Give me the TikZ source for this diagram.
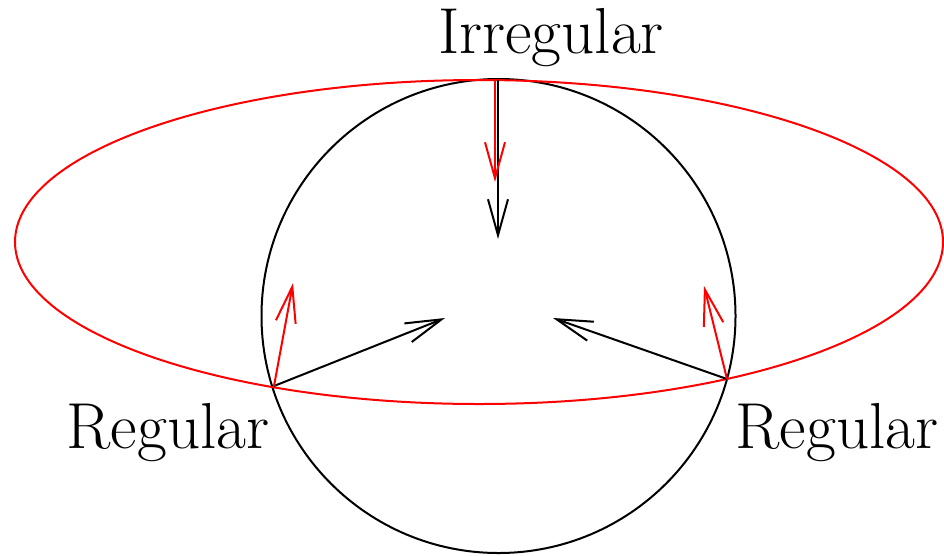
\documentclass[tikz,border=0pt]{standalone}
\usepackage{tikz}
\usetikzlibrary{arrows.meta}
\definecolor{ellred}{RGB}{255,0,0}
\tikzset{
  circline/.style={draw=black, line width=2pt},
  ellline/.style={draw=ellred, line width=2pt},
  blkarr/.style={-{Straight Barb[length=36pt, width=20pt, line width=2pt]}, black, line width=2pt},
  redarr/.style={-{Straight Barb[length=36pt, width=20pt, line width=2pt]}, ellred, line width=2pt},
  lbl/.style={font=\rmfamily\fontsize{65}{65}\selectfont, anchor=base, inner sep=0pt}
}
\begin{document}
\begin{tikzpicture}[x=1pt, y=-1pt]
  \useasboundingbox (0,0) rectangle (944,555);

  % Circle and ellipse
  \draw[circline] (498.5,316) circle[radius=237];
  \draw[ellline] (479,242) ellipse[x radius=464, y radius=162];

  % Points on the circle
  \coordinate (ptop) at (498,80);
  \coordinate (pleft) at (274,386);
  \coordinate (pright) at (727,379);
  \coordinate (btop) at (498,239);
  \coordinate (rtop) at (495,182);
  \coordinate (bleft) at (445,318);
  \coordinate (rleft) at (293,283);
  \coordinate (bright) at (553,318);
  \coordinate (rright) at (704,286);

  % Arrows
  \draw[blkarr] (ptop) -- (btop);
  \draw[redarr] ([xshift=-3pt]ptop) -- (rtop);
  \draw[blkarr] (pleft) -- (bleft);
  \draw[redarr] (pleft) -- (rleft);
  \draw[blkarr] (pright) -- (bright);
  \draw[redarr] (pright) -- (rright);

  % Labels
  \node[lbl] (irr) at (551,53) {Irregular};
  \node[lbl] (regl) at (168,448) {Regular};
  \node[lbl] (regr) at (837,448) {Regular};
\end{tikzpicture}
\end{document}
